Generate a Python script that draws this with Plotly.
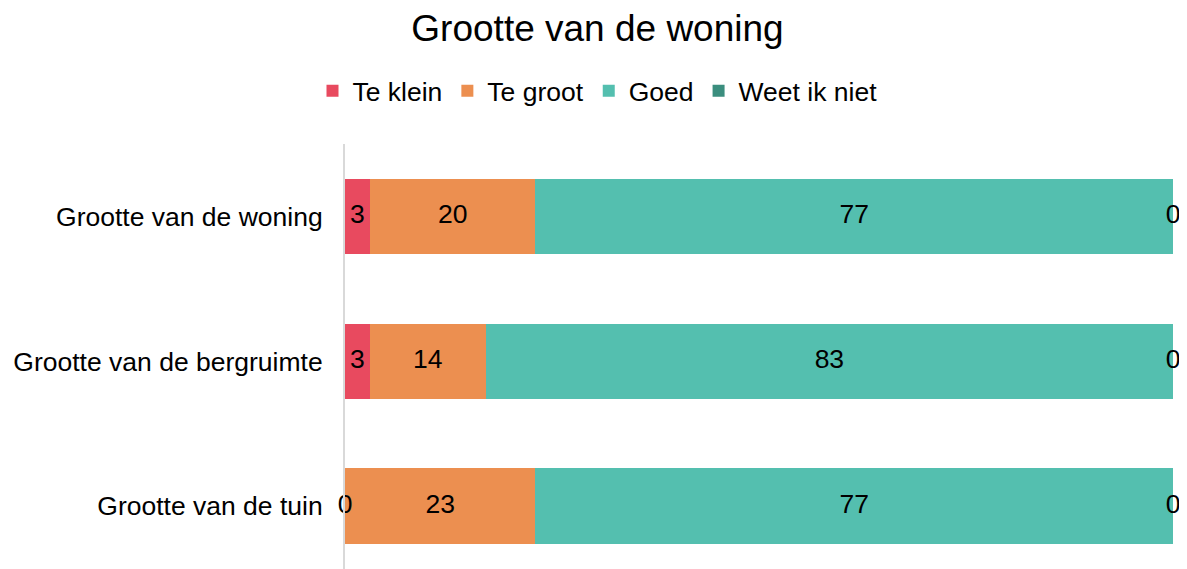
import plotly.graph_objects as go

categories = ['Grootte van de woning', 'Grootte van de bergruimte', 'Grootte van de tuin']
series_names = ['Te klein', 'Te groot', 'Goed', 'Weet ik niet']
te_klein = [3, 3, 0]
te_groot = [20, 14, 23]
goed = [77, 83, 77]
weet_niet = [0, 0, 0]

colors = ['#E84A5F', '#EC8F50', '#54BFAF', '#3B8E7E']
series_values = [te_klein, te_groot, goed, weet_niet]

fig = go.Figure()
for name, vals, col in zip(series_names, series_values, colors):
    fig.add_trace(go.Bar(
        y=categories, x=vals, name=name, orientation='h',
        marker=dict(color=col, line=dict(width=0)),
        hoverinfo='x+name',
    ))

# data labels, centred in each segment (also for zero-width segments)
cum = [0] * len(categories)
for vals in series_values:
    mids = [c + v / 2 for c, v in zip(cum, vals)]
    fig.add_trace(go.Scatter(
        x=mids, y=categories, mode='text', text=[str(v) for v in vals],
        textfont=dict(size=26.5, color='black'), showlegend=False,
        hoverinfo='skip', cliponaxis=False,
    ))
    cum = [c + v for c, v in zip(cum, vals)]

# the page body has an 8px margin, so the figure is 8px smaller each way
fig.update_layout(
    width=1179, height=561,
    barmode='stack', bargap=0.48,
    plot_bgcolor='white', paper_bgcolor='white',
    font=dict(family='Liberation Sans, Arial', size=26.5, color='black'),
    title=dict(text='Grootte van de woning', x=0.5, xanchor='center',
               y=0.964, yanchor='middle', font=dict(size=37)),
    legend=dict(orientation='h', xref='container', yref='container',
                x=0.5, xanchor='center', y=0.852, yanchor='middle',
                font=dict(size=26.5), traceorder='normal', itemwidth=30),
    margin=dict(l=337, r=14, t=136, b=0),
    xaxis=dict(visible=False, range=[0, 100], fixedrange=True),
    yaxis=dict(range=[2.434, -0.5], showline=True, linecolor='#D9D9D9', linewidth=2,
               showgrid=False, ticks='', ticklabelstandoff=15, automargin=False),
)

fig.write_html('out.html')
